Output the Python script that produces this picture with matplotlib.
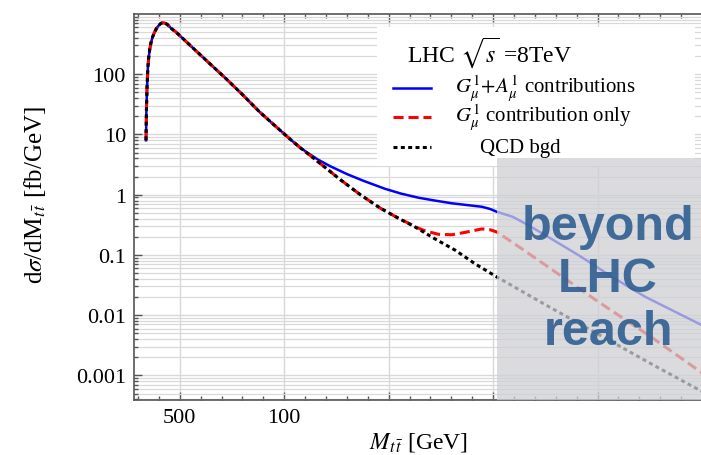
"""ttbar invariant-mass spectrum at LHC 8 TeV: KK gluon / photon contributions vs QCD bgd.
Writes out.png.
"""

import matplotlib

matplotlib.use("Agg")
import matplotlib.pyplot as plt
from matplotlib.lines import Line2D
from matplotlib.patches import Rectangle
from matplotlib.ticker import LogLocator, MultipleLocator, NullFormatter, FixedLocator

plt.rcParams["font.family"] = ["Liberation Serif", "DejaVu Serif"]
plt.rcParams["mathtext.fontset"] = "stix"

# QCD background, d sigma / dM (fb/GeV)
M_QCD = [338, 340, 343, 347, 351, 356, 362, 370, 378, 388, 399, 408, 418, 428, 439, 452,
         463, 478, 550, 638, 720, 797, 880, 957, 1029, 1077, 1120, 1172, 1268, 1364, 1459,
         1550, 1627, 1721, 1818, 1914, 2018, 2250, 2500, 2750, 3000]
QCD = [8, 25, 60, 130, 190, 260, 335, 420, 490, 575, 645, 695, 716, 705, 675, 610,
       560, 515, 300, 156, 85, 47, 24, 13.8, 8.3, 6.0, 4.6, 3.3, 1.78, 1.0, 0.60,
       0.40, 0.29, 0.185, 0.12, 0.071, 0.043, 0.0149, 0.0049, 0.0016, 0.00054]

# G^1 only: follows QCD up to ~1.55 TeV
M_G = [338, 340, 343, 347, 351, 356, 362, 370, 378, 388, 399, 408, 418, 428, 439, 452,
       463, 478, 550, 638, 720, 797, 880, 957, 1029, 1077, 1120, 1172, 1268, 1364, 1459,
       1550, 1600, 1640, 1675, 1738, 1802, 1866, 1946, 1985, 2018, 2100, 2250, 2500, 2750, 3000]
G_ONLY = [8, 25, 60, 130, 190, 260, 335, 420, 490, 575, 645, 695, 716, 705, 675, 610,
          560, 515, 300, 156, 85, 47, 24, 13.8, 8.3, 6.0, 4.6, 3.3, 1.78, 1.0, 0.60,
          0.40, 0.33, 0.28, 0.25, 0.22, 0.216, 0.237, 0.27, 0.262, 0.24, 0.155, 0.068,
          0.017, 0.0045, 0.0011]

# G^1 + A^1: follows QCD up to ~1.1 TeV
M_GA = [338, 340, 343, 347, 351, 356, 362, 370, 378, 388, 399, 408, 418, 428, 439, 452,
        463, 478, 550, 638, 720, 797, 880, 957, 1029, 1077, 1120, 1160, 1220, 1300, 1379,
        1483, 1560, 1643, 1720, 1802, 1880, 1946, 1985, 2018, 2093, 2170, 2252, 2411,
        2570, 2730, 3000]
G_PLUS_A = [8, 25, 60, 130, 190, 260, 335, 420, 490, 575, 645, 695, 716, 705, 675, 610,
            560, 515, 300, 156, 85, 47, 24, 13.8, 8.3, 6.0, 4.75, 3.85, 2.97, 2.2, 1.7,
            1.25, 1.04, 0.89, 0.80, 0.72, 0.67, 0.63, 0.58, 0.52, 0.43, 0.31, 0.21, 0.098,
            0.043, 0.020, 0.0068]

XTICKS = [500, 1000, 1500, 2000, 2500, 3000]
XTICK_LABELS = ["500", "100", "", "", "", ""]
YTICKS = [0.001, 0.01, 0.1, 1, 10, 100]
YTICK_LABELS = ["0.001", "0.01", "0.1", "1", "10", "100"]

LHC_REACH = 2019  # GeV, start of shaded region

W, H = 701, 456


def fpx(x, y):
    """pixel position (from top-left) -> figure fraction"""
    return x / W, 1 - y / H


fig = plt.figure(figsize=(W / 100, H / 100), dpi=100)
ax = fig.add_axes([134.3 / W, 55 / H, 567.7 / W, 386 / H])

ax.plot(M_GA, G_PLUS_A, color="#0000ff", lw=1.8, zorder=3)
ax.plot(M_G, G_ONLY, color="#ff0000", lw=2.2, dashes=(3.3, 1.6), zorder=3.1)
ax.plot(M_QCD, QCD, color="black", lw=2.2, dashes=(1.3, 1.1), zorder=3.2)

ax.set_yscale("log")
ax.set_xlim(282, 3000)
ax.set_ylim(3.9e-4, 1000)

ax.xaxis.set_major_locator(FixedLocator(XTICKS))
ax.set_xticklabels(XTICK_LABELS)
ax.xaxis.set_minor_locator(MultipleLocator(100))
ax.yaxis.set_major_locator(FixedLocator(YTICKS))
ax.set_yticklabels(YTICK_LABELS)
ax.yaxis.set_minor_locator(LogLocator(base=10, subs=range(2, 10), numticks=20))
ax.yaxis.set_minor_formatter(NullFormatter())

ax.tick_params(which="both", direction="in", top=True, right=False,
               color="#555555", width=1, labelsize=16, labelcolor="black")
ax.tick_params(which="major", length=6, pad=6)
ax.tick_params(which="minor", length=3)
for side in ["left", "bottom", "top"]:
    ax.spines[side].set_color("#555555")
    ax.spines[side].set_linewidth(1.2)
ax.spines["right"].set_visible(False)

ax.grid(True, which="major", color="#d9d9d9", lw=1.0, zorder=0)
ax.grid(True, which="minor", axis="y", color="#d9d9d9", lw=0.9, zorder=0)
ax.set_axisbelow(True)

ax.set_xlabel(r"$M_{t\,\bar{t}}$ [GeV]", fontsize=17, labelpad=2)
ax.set_ylabel(r"d$\sigma$/dM$_{t\,\bar{t}}$ [fb/GeV]", fontsize=18)
ax.yaxis.set_label_coords(-0.152, 0.534)

# legend panel
tf = fig.transFigure
x0, y0 = fpx(377, 167)
x1, y1 = fpx(695, 28)
ax.add_patch(Rectangle((x0, y0), x1 - x0, y1 - y0, transform=tf, facecolor="white",
                       edgecolor="none", zorder=5, clip_on=False))
ax.text(*fpx(407, 53), r"LHC $\sqrt{s}$ =8TeV", transform=tf, fontsize=17,
        va="center", ha="left", zorder=6)
entries = [
    (89, dict(color="#0000ff", lw=1.8), r"$G^1_\mu\!+\!A^1_\mu$ contributions", 455),
    (118, dict(color="#ff0000", lw=2.2, dashes=(3.3, 1.6)), r"$G^1_\mu$ contribution only", 455),
    (148, dict(color="black", lw=2.2, dashes=(1.3, 1.1)), "QCD bgd", 480),
]
for yy, style, label, tx in entries:
    xa, ya = fpx(393, yy)
    xb, _ = fpx(431, yy)
    ax.add_line(Line2D([xa, xb], [ya, ya], transform=tf, zorder=6, clip_on=False, **style))
    ax.text(*fpx(tx, yy), label, transform=tf, fontsize=15, va="center", ha="left", zorder=6)

# shaded region beyond LHC reach
ax.add_patch(Rectangle((LHC_REACH, 3.9e-4), 1200, 4.05 - 3.9e-4, facecolor="#cfd0d4",
                       edgecolor="none", alpha=0.75, zorder=7))
ax.text(2550, 0.04, "beyond\nLHC\nreach", fontsize=35, fontweight="bold",
        family="Liberation Sans", color="#2f5f91", alpha=0.9, ha="center", va="center",
        linespacing=1.22, zorder=8)

fig.savefig("out.png", dpi=100)
